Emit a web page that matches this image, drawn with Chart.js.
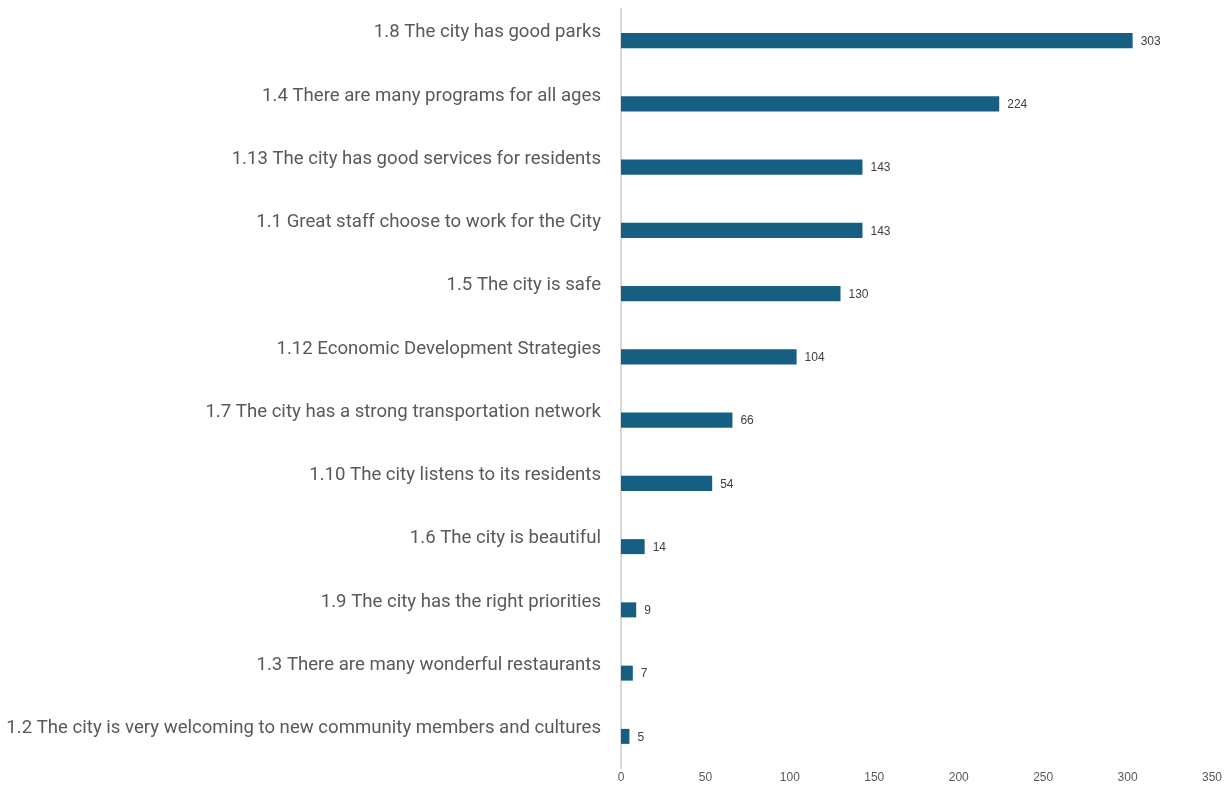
<!DOCTYPE html>
<html>
<head>
<meta charset="utf-8">
<script src="https://cdn.jsdelivr.net/npm/chart.js@4.4.1/dist/chart.umd.min.js"></script>
<style>
  html, body { margin: 0; padding: 0; background: #ffffff; }
  #wrap { width: 1225px; height: 786px; position: relative; }
</style>
</head>
<body>
<div id="wrap"><canvas id="c"></canvas></div>
<script>
const categories = [
  "1.8 The city has good parks",
  "1.4 There are many programs for all ages",
  "1.13 The city has good services for residents",
  "1.1 Great staff choose to work for the City",
  "1.5 The city is safe",
  "1.12 Economic Development Strategies",
  "1.7 The city has a strong transportation network",
  "1.10 The city listens to its residents",
  "1.6 The city is beautiful",
  "1.9 The city has the right priorities",
  "1.3 There are many wonderful restaurants",
  "1.2 The city is very welcoming to new community members and cultures"
];
const counts = [303, 224, 143, 143, 130, 104, 66, 54, 14, 9, 7, 5];
const xTicks = [0, 50, 100, 150, 200, 250, 300, 350];

const valueLabels = {
  id: 'valueLabels',
  afterDatasetsDraw(chart) {
    const ctx = chart.ctx;
    const meta = chart.getDatasetMeta(0);
    ctx.save();
    ctx.font = '12px "Liberation Sans", Arial, sans-serif';
    ctx.fillStyle = '#404040';
    ctx.textAlign = 'left';
    ctx.textBaseline = 'middle';
    meta.data.forEach((bar, i) => {
      ctx.fillText(String(counts[i]), bar.x + 8, bar.y + 1);
    });
    ctx.restore();
  }
};

new Chart(document.getElementById('c'), {
  type: 'bar',
  data: {
    labels: categories,
    datasets: [{
      data: counts,
      backgroundColor: '#175f82',
      borderWidth: 0,
      categoryPercentage: 1,
      barPercentage: 15 / 63.2
    }]
  },
  options: {
    indexAxis: 'y',
    responsive: true,
    maintainAspectRatio: false,
    animation: false,
    layout: { padding: { top: 9, right: 13, bottom: 0, left: 0 } },
    plugins: {
      legend: { display: false },
      tooltip: { enabled: false }
    },
    scales: {
      x: {
        min: 0,
        max: 350,
        afterBuildTicks(scale) { scale.ticks = xTicks.map(v => ({ value: v })); },
        afterFit(scale) { scale.height = 18; scale.paddingLeft = 0; scale.paddingRight = 0; },
        grid: { display: false, drawTicks: false },
        border: { display: false },
        ticks: {
          color: '#595959',
          padding: 2,
          maxRotation: 0,
          font: { size: 12, family: '"Liberation Sans", Arial, sans-serif' }
        }
      },
      y: {
        grid: { display: false, drawTicks: false },
        border: { display: true, color: '#d9d9d9', width: 2 },
        afterFit(scale) { scale.width = 621; scale.paddingTop = 0; scale.paddingBottom = 0; },
        ticks: {
          color: '#595959',
          padding: 20,
          labelOffset: -8,
          autoSkip: false,
          font: { size: 18.6, family: 'Roboto, sans-serif' }
        }
      }
    }
  },
  plugins: [valueLabels]
});
</script>
</body>
</html>
